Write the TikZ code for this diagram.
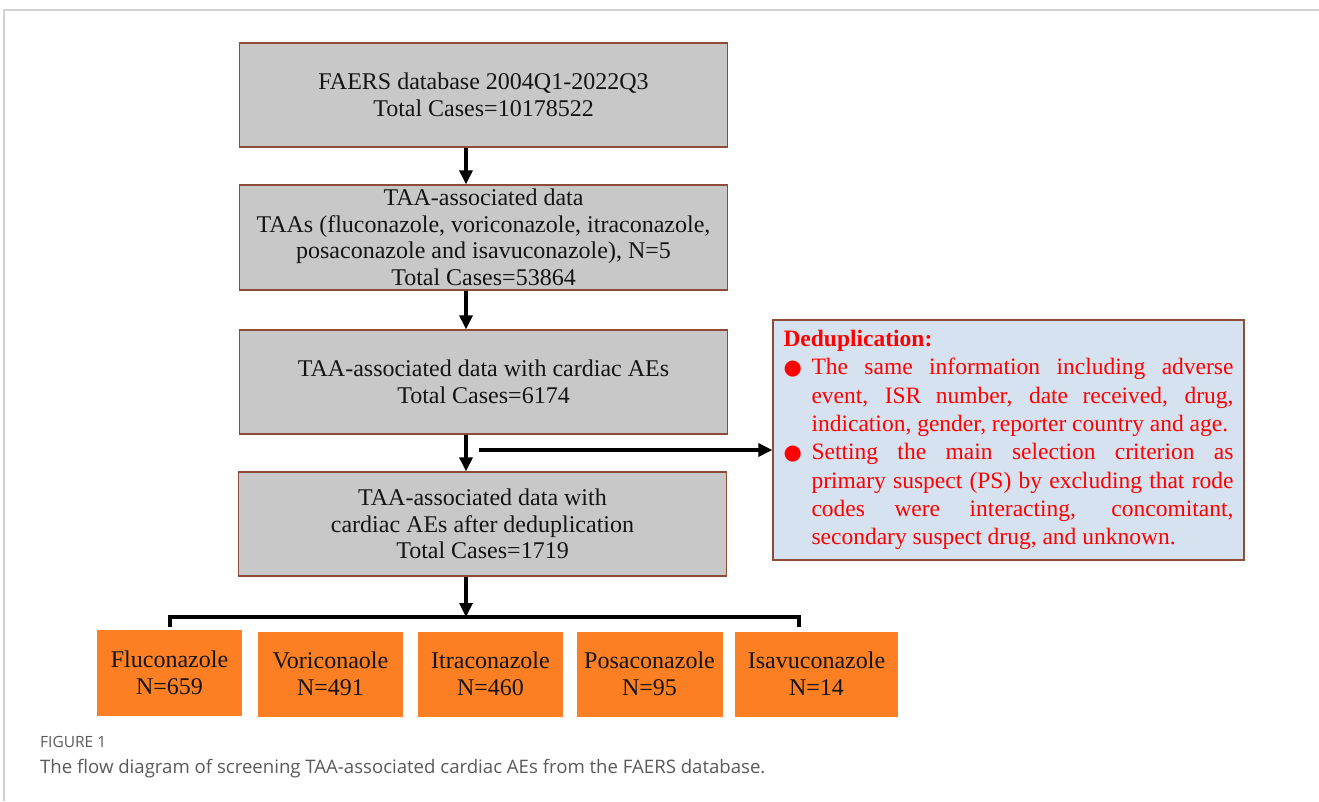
\documentclass[tikz,border=0pt]{standalone}
\usepackage{fontspec}
\setmainfont{Liberation Serif}
\newfontfamily\capfont{Open Sans}
\newfontfamily\dotfont{DejaVu Sans}
\usetikzlibrary{arrows.meta}

\definecolor{boxgray}{HTML}{C8C8C8}
\definecolor{boxline}{HTML}{8E4B3A}
\definecolor{drugorange}{HTML}{FD7F23}
\definecolor{dedupblue}{HTML}{D6E2F0}
\definecolor{capgray}{HTML}{595959}

\newcommand{\dedupitem}{\par\noindent\hangindent=28pt\hangafter=1\makebox[28pt][l]{\dotfont\fontsize{21}{21}\selectfont ●}}

\tikzstyle{stage}=[rectangle,draw=boxline,line width=1.3pt,fill=boxgray,text=black!92,minimum width=488pt,minimum height=104pt,inner sep=0pt,align=center,font=\fontsize{24}{26.5}\selectfont]
\tikzstyle{drug}=[rectangle,fill=drugorange,minimum height=85pt,inner sep=0pt,align=center,text=black!92,font=\fontsize{24}{27}\selectfont]
\tikzstyle{dedup}=[rectangle,draw=boxline,line width=1.3pt,fill=dedupblue,text=red,minimum width=471pt,minimum height=240pt,inner xsep=7pt,inner ysep=0pt,text width=450pt,align=justify,font=\fontsize{23.5}{28.3}\selectfont]
\tikzstyle{flow} = [draw,line width=3.2pt,->]
\tikzstyle{bracket} = [draw,line width=3.2pt,-]

\begin{document}
\begin{tikzpicture}[x=1pt,y=-1pt,>={Triangle[length=14pt,width=13pt]}]
	\useasboundingbox (0,0) rectangle (1319,801);
	% page frame
	\draw[gray!35,line width=1.5pt] (4,801) -- (4,10) -- (1319,10);

			\node[stage] (faers) at (483.5,95) {FAERS database 2004Q1-2022Q3\\Total Cases=10178522};
			\node[stage,minimum height=105pt] (taa) at (483.5,237.5) {TAA-associated data\\TAAs (fluconazole, voriconazole, itraconazole,\\posaconazole and isavuconazole), N=5\\Total Cases=53864};
			\node[stage] (cardiac) at (483.5,382) {TAA-associated data with cardiac AEs\\Total Cases=6174};
			\node[stage] (final) at (482.5,524) {TAA-associated data with\\cardiac AEs after deduplication\\Total Cases=1719};
			\node[dedup] (dedup) at (1008.5,440) {{\bfseries Deduplication:}
				\dedupitem The same information including adverse\linebreak event, ISR number, date received, drug,\linebreak indication, gender, reporter country and age.
				\dedupitem Setting the main selection criterion as\linebreak primary suspect (PS) by excluding that rode\linebreak codes were interacting, concomitant,\linebreak secondary suspect drug, and unknown.\par};

			\node[drug,minimum width=145pt,minimum height=86pt] (flu) at (169.5,673) {Fluconazole\\N=659};
			\node[drug,minimum width=145pt] (vori) at (330.5,674) {Voriconaole\\N=491};
			\node[drug,minimum width=145pt] (itra) at (490.5,674) {Itraconazole\\N=460};
			\node[drug,minimum width=146pt] (posa) at (649.5,674) {Posaconazole\\N=95};
			\node[drug,minimum width=163pt] (isa) at (816.5,674) {Isavuconazole\\N=14};

			\coordinate (spine) at (466,0);
			\coordinate (branch) at (479,450);
			\coordinate (join) at (466,617);
			\coordinate (tickl) at (170,627);
			\coordinate (tickr) at (799,627);
	   		 % Connect stages with arrows
	   		 \foreach \source/ \dest in {faers/taa, taa/cardiac, cardiac/final}
			 \path[flow] (\source.south -| spine) to (\dest.north -| spine);
			 \path[flow] (branch) -- (branch -| dedup.west);
			 \path[flow] (final.south -| spine) -- (join);
			 \path[bracket] (tickl) |- (join) -| (tickr);

	% caption
	\node[anchor=base west,inner sep=0pt,text=capgray,font=\capfont\fontsize{15.5}{15.5}\selectfont] (figno) at (40,747) {FIGURE 1};
	\node[anchor=base west,inner sep=0pt,text=capgray,font=\capfont\fontsize{18.6}{18.6}\selectfont] (caption) at (40,773) {The flow diagram of screening TAA-associated cardiac AEs from the FAERS database.};
\end{tikzpicture}
\end{document}
